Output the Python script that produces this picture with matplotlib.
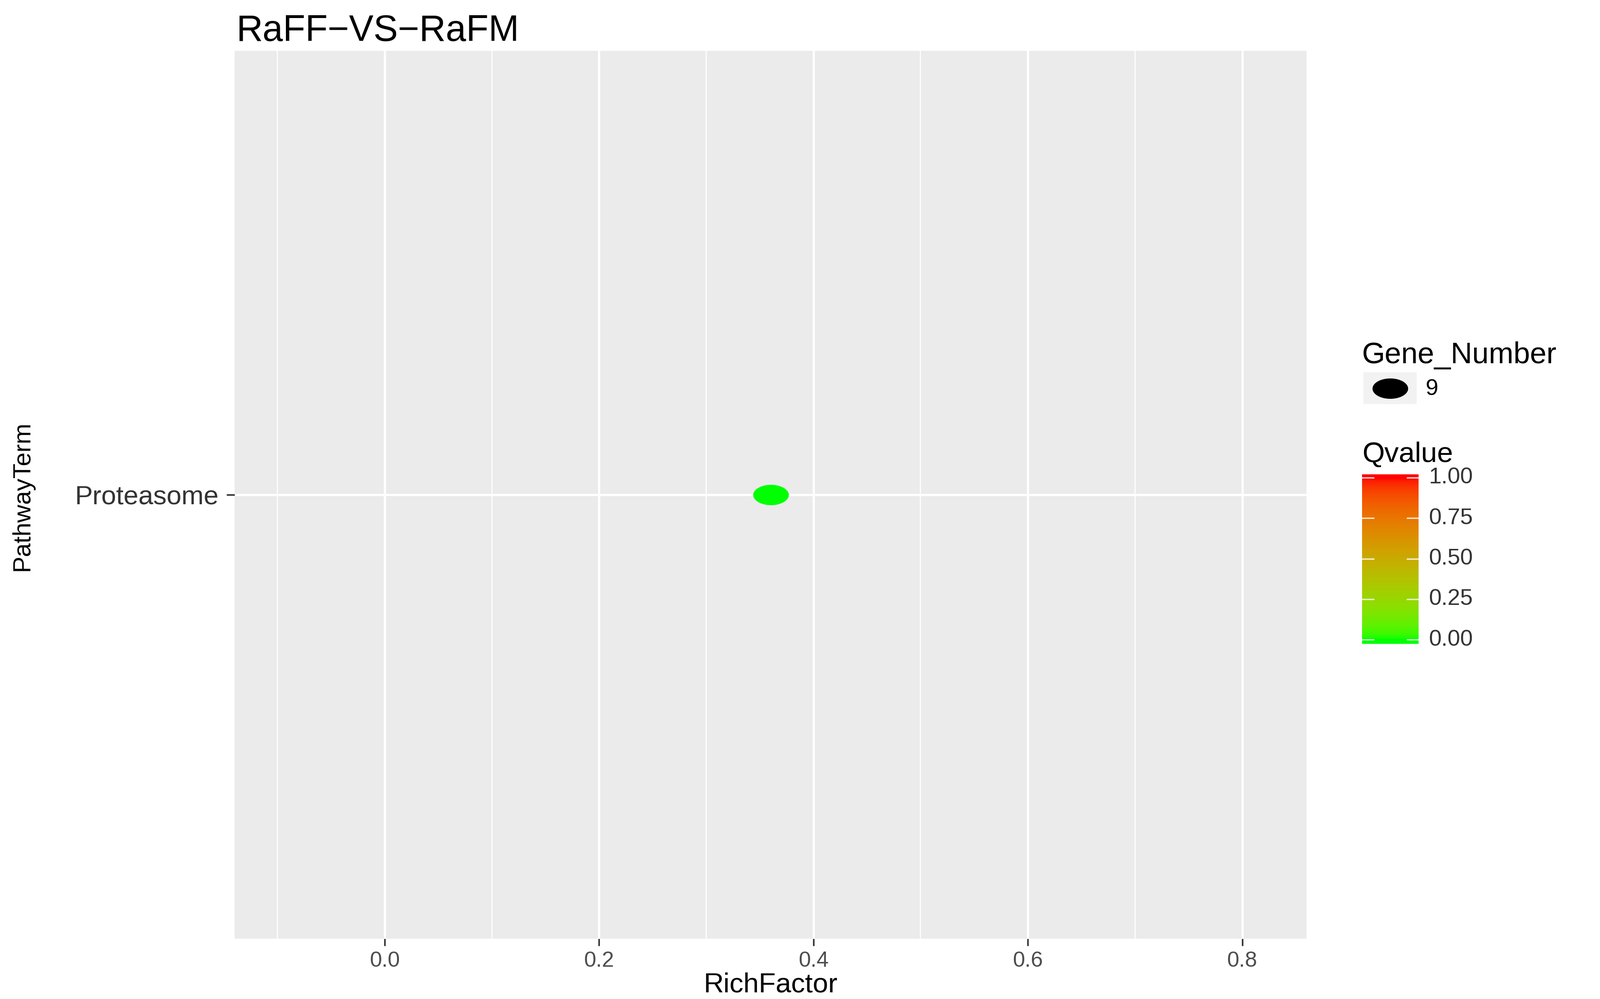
import numpy as np
import matplotlib
matplotlib.use("Agg")
import matplotlib.pyplot as plt
from matplotlib.colors import ListedColormap
from matplotlib.path import Path

plt.rcParams['font.family'] = ['Liberation Sans', 'DejaVu Sans']

# data
pathways = ["Proteasome"]
rich_factor = np.array([0.36])
gene_number = np.array([9])
qvalue = np.array([0.0])
richfactor_ticks = [0.0, 0.2, 0.4, 0.6, 0.8]
qvalue_ticks = [0.0, 0.25, 0.5, 0.75, 1.0]

W, H = 3369, 2104
DPI = 300
WHITE = np.array([0.95047, 1.0, 1.08883])
M = np.array([[0.4124, 0.3576, 0.1805],
              [0.2126, 0.7152, 0.0722],
              [0.0193, 0.1192, 0.9505]])


def srgb_to_lab(c):
    c = np.asarray(c, float)
    lin = np.where(c <= 0.04045, c / 12.92, ((c + 0.055) / 1.055) ** 2.4)
    xyz = lin @ M.T / WHITE
    f = np.where(xyz > 0.008856, np.cbrt(xyz), 7.787 * xyz + 16 / 116)
    return np.array([116 * f[1] - 16, 500 * (f[0] - f[1]), 200 * (f[1] - f[2])])


def lab_to_srgb(lab):
    fy = (lab[:, 0] + 16) / 116
    f = np.column_stack([fy + lab[:, 1] / 500, fy, fy - lab[:, 2] / 200])
    xyz = np.where(f > 0.2069, f ** 3, (f - 16 / 116) / 7.787) * WHITE
    lin = np.clip(xyz @ np.linalg.inv(M).T, 0, None)
    c = np.where(lin <= 0.0031308, 12.92 * lin, 1.055 * lin ** (1 / 2.4) - 0.055)
    return np.clip(c, 0, 1)


# ggplot-like gradient green -> red (interpolated in Lab)
l0, l1 = srgb_to_lab([0, 1, 0]), srgb_to_lab([1, 0, 0])
t = np.linspace(0, 1, 256)[:, None]
cmap = ListedColormap(lab_to_srgb(l0 + (l1 - l0) * t))

# the original picture is stretched sideways, so dots are ellipses
th = np.linspace(0, 2 * np.pi, 80)
ellipse = Path(np.column_stack([1.75 * np.cos(th), np.sin(th)]))
sizes = 324 * gene_number / gene_number.max()

fig = plt.figure(figsize=(W / DPI, H / DPI), dpi=DPI)

# main panel
ax = fig.add_axes([494 / W, 1 - 1977 / H, (2751 - 494) / W, (1977 - 107) / H])
ax.set_facecolor('#EBEBEB')
ypos = np.arange(1, len(pathways) + 1)
ax.scatter(rich_factor, ypos, s=sizes, c=qvalue, cmap=cmap, vmin=0, vmax=1,
           marker=ellipse, linewidths=0, zorder=3)
ax.set_xlim(rich_factor.min() - 0.5, rich_factor.max() + 0.5)
ax.set_ylim(0.4, len(pathways) + 0.6)
ax.set_xticks(richfactor_ticks)
ax.set_xticklabels(['%.1f' % v for v in richfactor_ticks])
ax.set_xticks(np.array(richfactor_ticks) - 0.1, minor=True)
ax.set_yticks(ypos)
ax.set_yticklabels(pathways)
ax.grid(which='major', color='white', lw=1.1)
ax.grid(which='minor', axis='x', color='white', lw=0.55)
ax.set_axisbelow(True)
for s in ax.spines.values():
    s.set_visible(False)
ax.tick_params(which='minor', length=0)
ax.tick_params(axis='x', which='major', length=3.5, width=0.8, color='#333333',
               labelcolor='#4D4D4D', labelsize=11, pad=2.5)
ax.tick_params(axis='y', which='major', length=4, width=0.8, color='#333333',
               labelcolor='#333333', labelsize=13.5, pad=4)

fig.text(498 / W, 1 - 86 / H, 'RaFF\u2212VS\u2212RaFM', fontsize=18.5, va='baseline', ha='left')
fig.text(1622 / W, 1 - 2074 / H, 'RichFactor', fontsize=14, ha='center', va='center')
fig.text(47 / W, 1 - 1044 / H, 'PathwayTerm', fontsize=12.5, rotation=90,
         ha='center', va='center')

# size legend
fig.text(2868 / W, 1 - 748 / H, 'Gene_Number', fontsize=15, ha='left', va='center')
kax = fig.add_axes([2871 / W, 1 - 851 / H, 112 / W, 67 / H])
kax.set_facecolor('#F2F2F2')
kax.scatter([0.5], [0.5], s=sizes.max(), color='black', marker=ellipse, linewidths=0)
kax.set_xlim(0, 1)
kax.set_ylim(0, 1)
kax.set_xticks([])
kax.set_yticks([])
for s in kax.spines.values():
    s.set_visible(False)
for g in gene_number:
    fig.text(3002 / W, 1 - 819 / H, str(g), fontsize=11.5, ha='left', va='center')

# colour legend
fig.text(2868 / W, 1 - 958 / H, 'Qvalue', fontsize=14.5, ha='left', va='center')
lo, hi = -9 / 341, 1 + 7 / 341
cax = fig.add_axes([2868 / W, 1 - 1356 / H, 119 / W, 357 / H])
grad = np.linspace(lo, hi, 300)[:, None]
cax.imshow(grad, aspect='auto', cmap=cmap, vmin=0, vmax=1, origin='lower',
           extent=[0, 1, lo, hi])
for q in qvalue_ticks:
    cax.plot([0, 0.2], [q, q], color='white', lw=0.7, alpha=0.8)
    cax.plot([0.8, 1], [q, q], color='white', lw=0.7, alpha=0.8)
    fig.text(3008 / W, 1 - (1347 - q * 341) / H, '%.2f' % q, fontsize=11.5,
             ha='left', va='center', color='#333333')
cax.set_xlim(0, 1)
cax.set_ylim(lo, hi)
cax.axis('off')

fig.savefig('out.png', dpi=DPI, facecolor='white')
